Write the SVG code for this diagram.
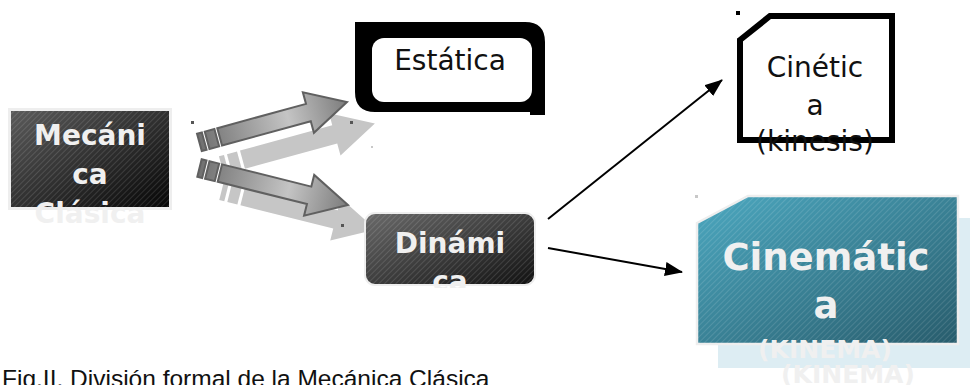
<svg xmlns="http://www.w3.org/2000/svg" xmlns:xlink="http://www.w3.org/1999/xlink" width="970" height="385" viewBox="0 0 970 385">
<style>
.bw{font-family:"DejaVu Sans",sans-serif;font-weight:bold;fill:#f0f0f0;text-anchor:middle}
.rg{font-family:"DejaVu Sans",sans-serif;font-size:28px;fill:#111;text-anchor:middle}
.cap{font-family:"Liberation Sans",Arial,sans-serif;font-size:24.5px;fill:#111}
.conn{stroke:#000;stroke-width:2;fill:none;marker-end:url(#ah)}
.dot{fill:#555}
.ldot{fill:#c8c8c8}
</style>
<defs>
<linearGradient id="gDark" x1="0" y1="0" x2="1" y2="1">
<stop offset="0" stop-color="#5c5c5c"/><stop offset="1" stop-color="#050505"/>
</linearGradient>
<linearGradient id="gDark2" x1="0" y1="0" x2="1" y2="1">
<stop offset="0" stop-color="#6a6a6a"/><stop offset="1" stop-color="#111"/>
</linearGradient>
<linearGradient id="gTeal" x1="0" y1="0" x2="1" y2="1">
<stop offset="0" stop-color="#4ca8c0"/><stop offset="1" stop-color="#285c6c"/>
</linearGradient>
<linearGradient id="gArr" gradientUnits="userSpaceOnUse" x1="0" y1="0" x2="153" y2="0">
<stop offset="0" stop-color="#707070"/><stop offset="0.6" stop-color="#c4c4c4"/><stop offset="1" stop-color="#7c7c7c"/>
</linearGradient>
<pattern id="hatch" width="4" height="4" patternUnits="userSpaceOnUse" patternTransform="rotate(-45)">
<rect width="4" height="1" fill="#fff" opacity="0.12"/>
</pattern>
<marker id="ah" markerUnits="userSpaceOnUse" markerWidth="18" markerHeight="14" refX="17" refY="7" orient="auto">
<path d="M0,0 L18,7 L0,14 Z" fill="#000"/>
</marker>
<g id="blk">
<rect x="0" y="-9" width="5" height="18"/>
<rect x="8" y="-9" width="10" height="18"/>
<path d="M21,-9 H113 V-21 L153,0 L113,21 V9 H21 Z"/>
</g>
<clipPath id="clipDin"><rect x="355" y="200" width="200" height="88"/></clipPath>
</defs>

<g id="arrows">
<use xlink:href="#blk" href="#blk" fill="#c6c6c6" transform="translate(221.4,165.4) rotate(-15.3) scale(1.04)"/>
<use xlink:href="#blk" href="#blk" fill="#c6c6c6" transform="translate(221.5,191) rotate(14) scale(1.04)"/>
<use xlink:href="#blk" href="#blk" fill="url(#gArr)" stroke="#606060" stroke-width="2" transform="translate(199.4,142.4) rotate(-15.3)"/>
<use xlink:href="#blk" href="#blk" fill="url(#gArr)" stroke="#606060" stroke-width="2" transform="translate(199.5,168) rotate(14)"/>
<rect class="dot" x="191" y="121" width="3" height="3"/>
<rect class="dot" x="350" y="121" width="3" height="3"/>
<rect class="dot" x="341" y="224" width="3" height="3"/>
<rect class="ldot" x="371" y="146" width="2" height="2"/>
<rect class="ldot" x="695" y="195" width="3" height="3"/>
</g>

<g id="mecanica">
<rect x="9.5" y="109.5" width="161" height="99" fill="url(#gDark)" stroke="#eeeeee" stroke-width="3"/>
<rect x="11" y="111" width="158" height="96" fill="url(#hatch)"/>
<text class="bw" font-size="28" x="90" y="145">Mecáni</text>
<text class="bw" font-size="28" x="90" y="184">ca</text>
<text class="bw" font-size="28" x="90" y="223" fill="#ececec">Clásica</text>
</g>

<g id="estatica">
<path d="M355,22 H525 Q545,22 545,42 V115 H530 V112 H375 Q355,112 355,92 Z" fill="#000"/>
<rect x="372" y="38" width="160" height="64" rx="12" fill="#fff"/>
<text class="rg" x="450" y="70">Estática</text>
</g>

<g id="dinamica">
<rect x="365" y="213" width="170" height="72" rx="10" fill="url(#gDark2)" stroke="#eeeeee" stroke-width="2"/>
<rect x="366" y="214" width="168" height="70" rx="9" fill="url(#hatch)"/>
<g clip-path="url(#clipDin)">
<text class="bw" font-size="28" x="450" y="253">Dinámi</text>
<text class="bw" font-size="28" x="450" y="291">ca</text>
</g>
</g>

<g id="cinetica">
<rect x="736" y="11" width="4" height="4" fill="#000"/>
<polygon points="740,40 770,16 892,16 892,140 740,140" fill="#fff" stroke="#000" stroke-width="6"/>
<text class="rg" x="815" y="77">Cinétic</text>
<text class="rg" x="815" y="115">a</text>
<text class="rg" x="815" y="151">(kinesis)</text>
</g>

<g id="cinematica">
<rect x="718" y="218" width="252" height="150" fill="#ddedf3"/>
<text class="bw" font-size="25" x="848" y="383" fill="#f2f8fa">(KINEMA)</text>
<polygon points="697,223 748,196 958,196 958,344 697,344" fill="url(#gTeal)" stroke="#eeeeee" stroke-width="2.5"/>
<polygon points="698,224 748,197 957,197 957,343 698,343" fill="url(#hatch)"/>
<text class="bw" font-size="37" x="826" y="270">Cinemátic</text>
<text class="bw" font-size="37" x="826" y="318">a</text>
<text class="bw" font-size="25" x="825" y="358" fill="#eeeeee">(KINEMA)</text>
</g>

<g id="connectors">
<path class="conn" d="M548,219 L722,80"/>
<path class="conn" d="M548,248 L682,272"/>
</g>

<text class="cap" x="2" y="387">Fig.II. División formal de la Mecánica Clásica</text>
</svg>
